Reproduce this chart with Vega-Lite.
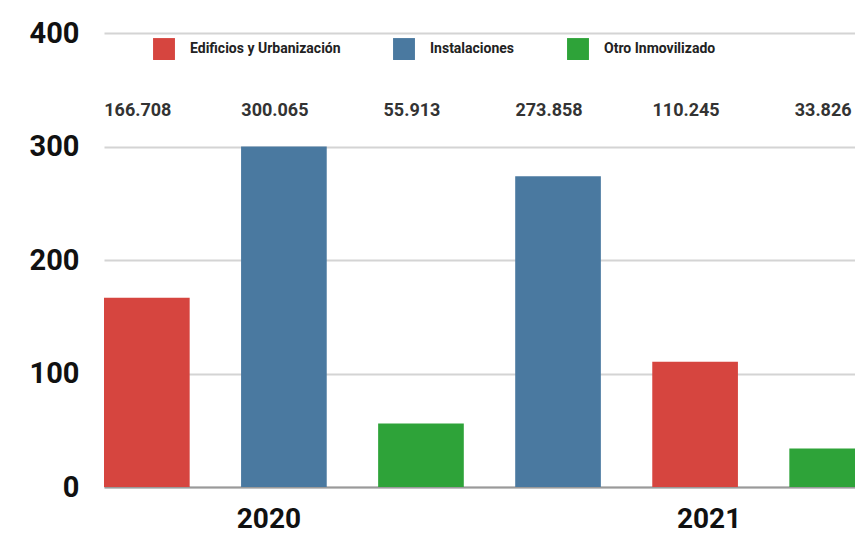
{
  "$schema": "https://vega.github.io/schema/vega-lite/v6.json",
  "width": 771,
  "height": 454,
  "autosize": "none",
  "padding": {"left": 104, "top": 33, "right": 0, "bottom": 46},
  "background": "white",
  "data": {
    "values": [
      {"anio": "2020", "categoria": "Edificios y Urbanización", "valor": 166.708},
      {"anio": "2020", "categoria": "Instalaciones", "valor": 300.065},
      {"anio": "2020", "categoria": "Otro Inmovilizado", "valor": 55.913},
      {"anio": "2021", "categoria": "Instalaciones", "valor": 273.858},
      {"anio": "2021", "categoria": "Edificios y Urbanización", "valor": 110.245},
      {"anio": "2021", "categoria": "Otro Inmovilizado", "valor": 33.826}
    ]
  },
  "transform": [{"calculate": "datum.anio + ' · ' + datum.categoria", "as": "barra"}],
  "encoding": {
    "x": {
      "field": "barra",
      "type": "nominal",
      "sort": null,
      "scale": {"paddingInner": 0.375, "paddingOuter": 0},
      "axis": {
        "title": null,
        "values": ["2020 · Instalaciones", "2021 · Edificios y Urbanización"],
        "labelExpr": "slice(datum.value, 0, 4)",
        "labelAngle": 0,
        "labelFont": "Roboto",
        "labelFontWeight": "bold",
        "labelFontSize": 28,
        "labelColor": "#111111",
        "labelPadding": 18,
        "labelOffset": {"condition": {"test": "indexof(datum.value, '2020') == 0", "value": -15}, "value": 14},
        "ticks": false,
        "domainColor": "#9a9a9a",
        "domainWidth": 2,
        "grid": false
      }
    }
  },
  "layer": [
    {
      "mark": {"type": "bar"},
      "encoding": {
        "y": {
          "field": "valor",
          "type": "quantitative",
          "scale": {"domain": [0, 400], "nice": false},
          "axis": {
            "title": null,
            "values": [0, 100, 200, 300, 400],
            "grid": true,
            "gridColor": "#d4d4d4",
            "gridWidth": 2,
            "domain": false,
            "ticks": false,
            "labelFont": "Roboto",
            "labelFontWeight": "bold",
            "labelFontSize": 29,
            "labelColor": "#111111",
            "labelPadding": 25
          }
        },
        "color": {
          "field": "categoria",
          "type": "nominal",
          "scale": {
            "domain": ["Edificios y Urbanización", "Instalaciones", "Otro Inmovilizado"],
            "range": ["#d6453f", "#4a79a0", "#2ea339"]
          },
          "legend": {
            "title": null,
            "orient": "none",
            "legendX": 49,
            "legendY": 5,
            "direction": "horizontal",
            "symbolType": "square",
            "symbolSize": 480,
            "symbolStrokeWidth": 0,
            "labelFont": "Roboto",
            "labelFontWeight": "bold",
            "labelFontSize": 14,
            "labelColor": "#222222",
            "labelOffset": 15,
            "labelLimit": 300,
            "columnPadding": 52
          }
        }
      }
    },
    {
      "mark": {"type": "text", "font": "Roboto", "fontWeight": "bold", "fontSize": 18, "color": "#333333", "baseline": "middle", "dx": -9},
      "encoding": {
        "y": {"datum": 331},
        "text": {"field": "valor", "type": "quantitative", "format": ".3f"}
      }
    }
  ],
  "config": {"view": {"stroke": null}}
}
